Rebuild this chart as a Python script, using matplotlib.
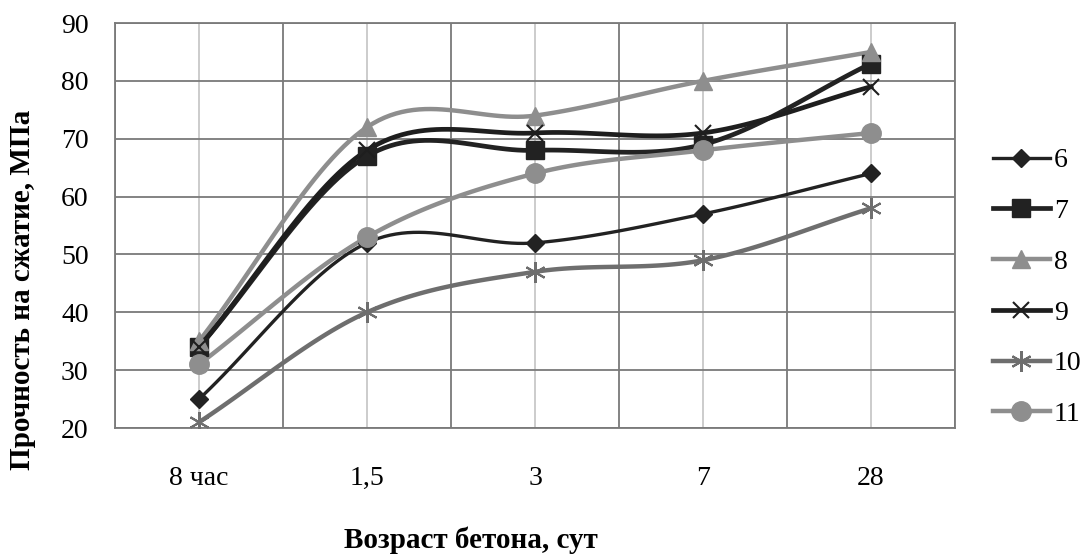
import numpy as np
import matplotlib.pyplot as plt

plt.rcParams['font.family'] = ['Liberation Serif', 'DejaVu Serif']

# Данные
ages = ["8 час", "1,5", "3", "7", "28"]
s6 = [25, 52, 52, 57, 64]
s7 = [34, 67, 68, 69, 83]
s8 = [35, 72, 74, 80, 85]
s9 = [34, 68, 71, 71, 79]
s10 = [21, 40, 47, 49, 58]
s11 = [31, 53, 64, 68, 71]
names = ["6", "7", "8", "9", "10", "11"]


def smooth(x, y, n=30):
    # сглаживание как в Excel (Catmull-Rom)
    x = np.asarray(x, float)
    y = np.asarray(y, float)
    px = np.concatenate([[2 * x[0] - x[1]], x, [2 * x[-1] - x[-2]]])
    py = np.concatenate([[2 * y[0] - y[1]], y, [2 * y[-1] - y[-2]]])
    ox, oy = [], []
    t = np.linspace(0, 1, n)
    for i in range(1, len(px) - 2):
        for arr, out in ((px, ox), (py, oy)):
            p0, p1, p2, p3 = arr[i - 1], arr[i], arr[i + 1], arr[i + 2]
            out.extend(0.5 * ((2 * p1) + (-p0 + p2) * t
                              + (2 * p0 - 5 * p1 + 4 * p2 - p3) * t ** 2
                              + (-p0 + 3 * p1 - 3 * p2 + p3) * t ** 3))
    return ox, oy


fig = plt.figure(figsize=(10.91, 5.54), dpi=100)
ax = fig.add_axes([0.1054, 0.2274, 0.770, 0.731])

x = np.arange(len(ages))
# значения, цвет, маркер, размер маркера, толщина линии
styles = [
    (s6, '#222222', 'D', 9, 2.4),
    (s7, '#222222', 's', 13, 3.4),
    (s8, '#8e8e8e', '^', 13, 3.2),
    (s9, '#1e1e1e', 'x', 12, 3.4),
    (s10, '#6e6e6e', (6, 2, 0), 15, 3.2),
    (s11, '#8e8e8e', 'o', 14, 3.2),
]

handles = []
for (vals, col, mk, ms, lw), name in zip(styles, names):
    sx, sy = smooth(x, vals)
    ax.plot(sx, sy, color=col, lw=lw, zorder=3)
    mew = 1.5 if mk in ('x', (6, 2, 0)) else 1.0
    ax.plot(x, vals, ls='none', marker=mk, ms=ms, mew=mew, color=col,
            mec=col, zorder=4)
    h, = ax.plot([], [], color=col, lw=lw, marker=mk, ms=ms, mew=mew,
                 mec=col, label=name)
    handles.append(h)

ax.set_xlim(-0.5, len(ages) - 0.5)
ax.set_ylim(20, 90)
ax.set_yticks(range(20, 91, 10))
ax.set_xticks(x)
ax.set_xticklabels(ages)
ax.set_xticks(np.arange(-0.5, len(ages), 1), minor=True)
ax.tick_params(axis='both', which='both', length=0, labelsize=20)
ax.tick_params(axis='x', pad=27)
ax.tick_params(axis='y', pad=19)

ax.grid(True, axis='y', color='#7a7a7a', lw=1.3, zorder=0)
ax.grid(True, axis='x', which='minor', color='#7a7a7a', lw=1.3, zorder=0)
ax.grid(True, axis='x', which='major', color='#c8c8c8', lw=1.3, zorder=0)
for sp in ax.spines.values():
    sp.set_color('#7a7a7a')
    sp.set_linewidth(1.3)

fig.text(0.021, 0.477, "Прочность на сжатие, МПа", rotation=90,
         ha='center', va='center', fontsize=21, fontweight='bold')
fig.text(0.432, 0.025, "Возраст бетона, сут", ha='center', va='center',
         fontsize=21, fontweight='bold')

fig.legend(handles=handles, loc='center left', bbox_to_anchor=(0.910, 0.481),
           frameon=False, fontsize=20, handlelength=2.05, handletextpad=0.15,
           labelspacing=0.91, borderaxespad=0, borderpad=0)

fig.savefig("out.png", dpi=100)
